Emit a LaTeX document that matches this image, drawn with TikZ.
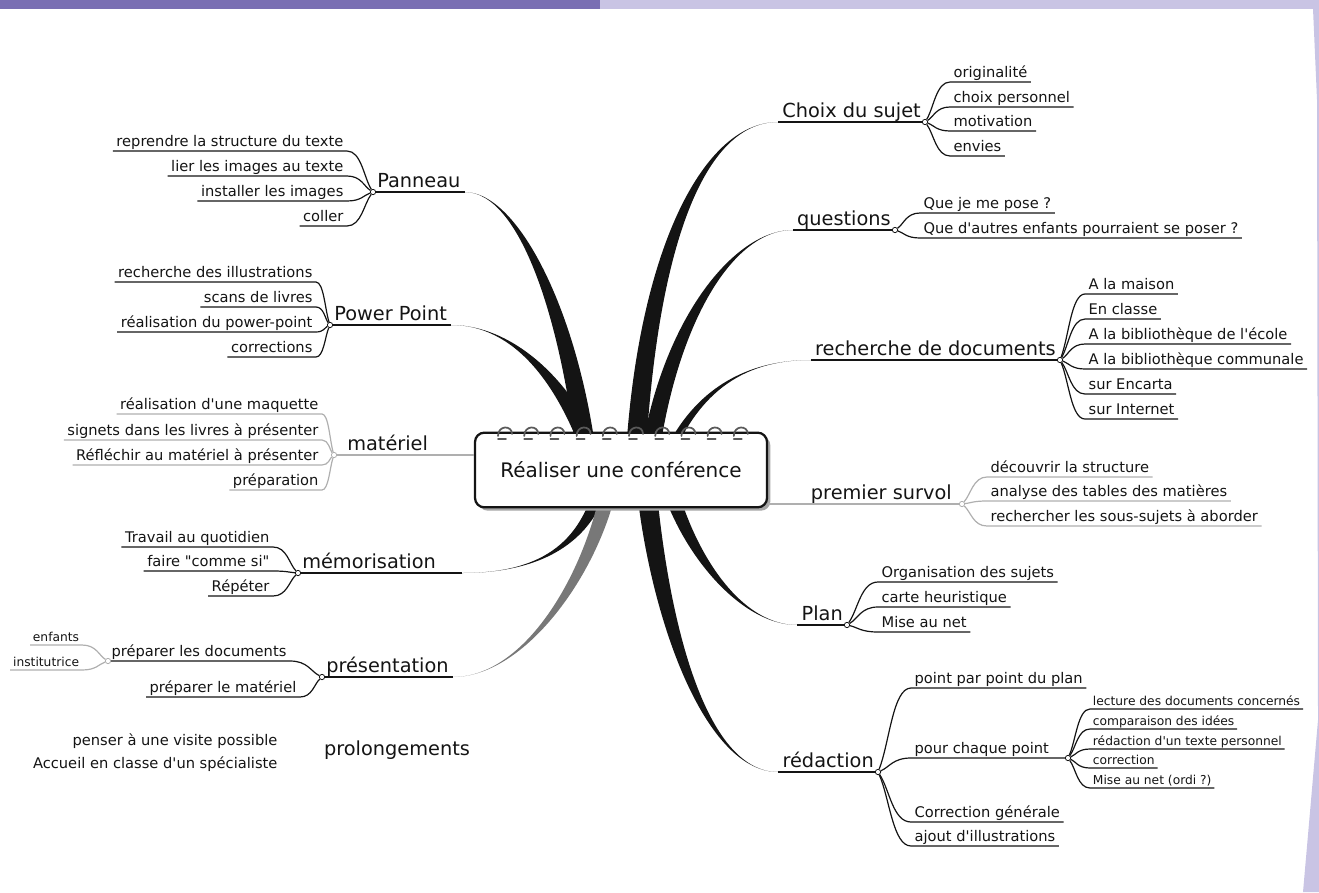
\documentclass[tikz,border=0pt]{standalone}
\usepackage{fontspec}
\setmainfont{DejaVu Sans}
\newfontfamily\djv{DejaVu Sans}
\usetikzlibrary{calc,shadows}
\definecolor{pdark}{RGB}{122,111,179}
\definecolor{plight}{RGB}{201,196,228}
\definecolor{ink}{RGB}{20,20,20}
\definecolor{faint}{RGB}{175,175,175}
\definecolor{midgray}{RGB}{120,120,120}
\newcommand\lblfont{\djv\fontsize{14.5}{17}\selectfont}
\newcommand\ctrfont{\djv\fontsize{15}{18}\selectfont}
\newcommand\itmfont{\djv\fontsize{11}{13}\selectfont}
\newcommand\sitmfont{\djv\fontsize{9.2}{11}\selectfont}
\newcommand\taper[6]{%
  \fill[#6] (#1) .. controls (#2) and ($(#3)+(#5,0)$) .. ($(#4)+(#5,0)$)
     -- ($(#4)-(#5,0)$) .. controls ($(#3)-(#5,0)$) and (#2) .. (#1) -- cycle;}
\tikzset{
  x=0.75pt, y=-0.75pt,
  lbl/.style={font=\lblfont, text=ink, inner xsep=3pt, inner ysep=0.8pt, text height=0.75em, text depth=0.22em},
  itm/.style={font=\itmfont, text=ink, inner xsep=2.5pt, inner ysep=0.8pt, text height=0.75em, text depth=0.22em},
  sitm/.style={font=\sitmfont, text=ink, inner xsep=2pt, inner ysep=0.6pt, text height=0.75em, text depth=0.22em},
  hub/.style={circle, draw=ink, fill=white, line width=0.6pt, inner sep=0pt, minimum size=4pt},
  ghub/.style={hub, draw=faint},
  ul/.style={draw=ink, line width=0.9pt},
  gul/.style={draw=faint, line width=0.9pt},
  ml/.style={draw=ink, line width=1.1pt},
  gml/.style={draw=faint, line width=1.1pt},
  fan/.style={to path={.. controls ($(\tikztostart)!0.35!(\tikztotarget)$) and ($(\tikztotarget)!0.55!(\tikztostart |- \tikztotarget)$) .. (\tikztotarget)}},
  coil/.style={draw=ink!70, line width=1.3pt, line cap=round},
  box/.style={draw=ink, fill=white, line width=1.7pt, rounded corners=7pt,
    minimum width=219pt, minimum height=56pt, font=\ctrfont, text=ink,
    drop shadow={shadow xshift=2.5pt, shadow yshift=-2.5pt, fill=gray!70, opacity=1}},
}
\begin{document}
\begin{tikzpicture}
\useasboundingbox (0,0) rectangle (1319,892);
% frame decoration
\fill[pdark] (0,0) rectangle (600,9);
\fill[plight] (600,0) rectangle (1319,9);
\fill[plight] (1313,9) -- (1319,9) -- (1319,892) -- (1303,892) -- (1318,720) -- (1317,100) -- cycle;

% ---------------- LEFT: Panneau
\node[hub] (hP) at (373,192) {};
\node[lbl, anchor=south west] (P) at (hP.center) {Panneau};
\node[itm, anchor=south east] (p1) at (347,151) {reprendre la structure du texte};
\node[itm, anchor=south east] (p2) at (347,176) {lier les images au texte};
\node[itm, anchor=south east] (p3) at (347,201) {installer les images};
\node[itm, anchor=south east] (p4) at (347,226) {coller};
\foreach \n in {p1,p2,p3,p4} \draw[ul] (hP) to[fan] (\n.south east) -- (\n.south west);
\draw[ml] (hP) -- (P.south east);

% ---------------- LEFT: Power Point
\node[hub] (hPP) at (330,325) {};
\node[lbl, anchor=south west] (PP) at (hPP.center) {Power Point};
\node[itm, anchor=south east] (q1) at (316,282) {recherche des illustrations};
\node[itm, anchor=south east] (q2) at (316,307) {scans de livres};
\node[itm, anchor=south east] (q3) at (316,332) {réalisation du power-point};
\node[itm, anchor=south east] (q4) at (316,357) {corrections};
\foreach \n in {q1,q2,q3,q4} \draw[ul] (hPP) to[fan] (\n.south east) -- (\n.south west);
\draw[ml] (hPP) -- (PP.south east);

% ---------------- LEFT: matériel
\node[ghub] (hM) at (334,455) {};
\node[lbl, anchor=south west] (M) at (343,455) {matériel};
\node[itm, anchor=south east] (m1) at (322,414) {réalisation d'une maquette};
\node[itm, anchor=south east] (m2) at (322,440) {signets dans les livres à présenter};
\node[itm, anchor=south east] (m3) at (322,465) {Réfléchir au matériel à présenter};
\node[itm, anchor=south east] (m4) at (322,490) {préparation};
\foreach \n in {m1,m2,m3,m4} \draw[gul] (hM) to[fan] (\n.south east) -- (\n.south west);

% ---------------- LEFT: mémorisation
\node[hub] (hMe) at (298,573) {};
\node[lbl, anchor=south west] (Me) at (hMe.center) {mémorisation};
\node[itm, anchor=south east] (e1) at (273,547) {Travail au quotidien};
\node[itm, anchor=south east] (e2) at (273,571) {faire "comme si"};
\node[itm, anchor=south east] (e3) at (273,596) {Répéter};
\foreach \n in {e1,e2,e3} \draw[ul] (hMe) to[fan] (\n.south east) -- (\n.south west);
\coordinate (eMe) at (462,573);
\draw[ml] (hMe) -- (eMe);

% ---------------- LEFT: présentation
\node[hub] (hPr) at (322,677) {};
\node[lbl, anchor=south west] (Pr) at (hPr.center) {présentation};
\node[ghub] (hPd) at (108,661) {};
\node[itm, anchor=south west] (r1) at (hPd.center) {préparer les documents};
\node[itm, anchor=south east] (r2) at (300,697) {préparer le matériel};
\node[sitm, anchor=south east] (r11) at (82,645) {enfants};
\node[sitm, anchor=south east] (r12) at (82,670) {institutrice};
\draw[ul] (hPr) to[fan] (r1.south east) -- (hPd);
\draw[ul] (hPr) to[fan] (r2.south east) -- (r2.south west);
\foreach \n in {r11,r12} \draw[gul] (hPd) to[fan] (\n.south east) -- (\n.south west);
\draw[ml] (hPr) -- (Pr.south east);

% ---------------- LEFT: prolongements
\node[lbl] (Pg) at (397,752) {prolongements};
\node[itm, anchor=east] (g1) at (281,742) {penser à une visite possible};
\node[itm, anchor=east] (g2) at (281,765) {Accueil en classe d'un spécialiste};

% ---------------- RIGHT: Choix du sujet
\node[hub] (hC) at (925,122) {};
\node[lbl, anchor=south east] (C) at (hC.center) {Choix du sujet};
\node[itm, anchor=south west] (c1) at (950,82) {originalité};
\node[itm, anchor=south west] (c2) at (950,107) {choix personnel};
\node[itm, anchor=south west] (c3) at (950,131) {motivation};
\node[itm, anchor=south west] (c4) at (950,156) {envies};
\foreach \n in {c1,c2,c3,c4} \draw[ul] (hC) to[fan] (\n.south west) -- (\n.south east);
\draw[ml] (C.south west) -- (hC);

% ---------------- RIGHT: questions
\node[hub] (hQ) at (895,230) {};
\node[lbl, anchor=south east] (Q) at (hQ.center) {questions};
\node[itm, anchor=south west] (k1) at (920,213) {Que je me pose ?};
\node[itm, anchor=south west] (k2) at (920,238) {Que d'autres enfants pourraient se poser ?};
\foreach \n in {k1,k2} \draw[ul] (hQ) to[fan] (\n.south west) -- (\n.south east);
\draw[ml] (Q.south west) -- (hQ);

% ---------------- RIGHT: recherche de documents
\node[hub] (hR) at (1060,360) {};
\node[lbl, anchor=south east] (R) at (hR.center) {recherche de documents};
\node[itm, anchor=south west] (d1) at (1085,294) {A la maison};
\node[itm, anchor=south west] (d2) at (1085,319) {En classe};
\node[itm, anchor=south west] (d3) at (1085,344) {A la bibliothèque de l'école};
\node[itm, anchor=south west] (d4) at (1085,369) {A la bibliothèque communale};
\node[itm, anchor=south west] (d5) at (1085,394) {sur Encarta};
\node[itm, anchor=south west] (d6) at (1085,419) {sur Internet};
\foreach \n in {d1,d2,d3,d4,d5,d6} \draw[ul] (hR) to[fan] (\n.south west) -- (\n.south east);
\draw[ml] (R.south west) -- (hR);

% ---------------- RIGHT: premier survol
\node[ghub] (hS) at (962,504) {};
\node[lbl, anchor=south east] (S) at (956,504) {premier survol};
\node[itm, anchor=south west] (s1) at (987,477) {découvrir la structure};
\node[itm, anchor=south west] (s2) at (987,501) {analyse des tables des matières};
\node[itm, anchor=south west] (s3) at (987,526) {rechercher les sous-sujets à aborder};
\foreach \n in {s1,s2,s3} \draw[gul] (hS) to[fan] (\n.south west) -- (\n.south east);

% ---------------- RIGHT: Plan
\node[hub] (hPl) at (847,625) {};
\node[lbl, anchor=south east] (Pl) at (hPl.center) {Plan};
\node[itm, anchor=south west] (l1) at (878,582) {Organisation des sujets};
\node[itm, anchor=south west] (l2) at (878,607) {carte heuristique};
\node[itm, anchor=south west] (l3) at (878,632) {Mise au net};
\foreach \n in {l1,l2,l3} \draw[ul] (hPl) to[fan] (\n.south west) -- (\n.south east);
\draw[ml] (Pl.south west) -- (hPl);

% ---------------- RIGHT: rédaction
\node[hub] (hRe) at (878,772) {};
\node[lbl, anchor=south east] (Re) at (hRe.center) {rédaction};
\node[itm, anchor=south west] (w1) at (911,688) {point par point du plan};
\node[hub] (hPc) at (1068,758) {};
\node[itm, anchor=south west] (w2) at (911,758) {pour chaque point};
\node[itm, anchor=south west] (w3) at (911,822) {Correction générale};
\node[itm, anchor=south west] (w4) at (911,846) {ajout d'illustrations};
\foreach \n in {w1,w3,w4} \draw[ul] (hRe) to[fan] (\n.south west) -- (\n.south east);
\draw[ul] (hRe) to[fan] (w2.south west) -- (hPc);
\node[sitm, anchor=south west] (v1) at (1090,709) {lecture des documents concernés};
\node[sitm, anchor=south west] (v2) at (1090,729) {comparaison des idées};
\node[sitm, anchor=south west] (v3) at (1090,749) {rédaction d'un texte personnel};
\node[sitm, anchor=south west] (v4) at (1090,768) {correction};
\node[sitm, anchor=south west] (v5) at (1090,788) {Mise au net (ordi ?)};
\foreach \n in {v1,v2,v3,v4,v5} \draw[ul] (hPc) to[fan] (\n.south west) -- (\n.south east);
\draw[ml] (Re.south west) -- (hRe);

% ---------------- central branches
\coordinate (sP) at (588,470);
\coordinate (sPP) at (598,470);
\coordinate (sMe) at (605,470);
\coordinate (sPr) at (612,470);
\coordinate (sC) at (635,470);
\coordinate (sQ) at (648,470);
\coordinate (sR) at (662,470);
\coordinate (sPl) at (665,470);
\coordinate (sRe) at (645,470);
\taper{P.south east}{520,192}{572,320}{sP}{10}{ink}
\taper{PP.south east}{515,325}{570,385}{sPP}{10}{ink}
\taper{eMe}{545,573}{592,540}{sMe}{7}{ink}
\taper{Pr.south east}{530,677}{600,560}{sPr}{8}{midgray}
\taper{C.south west}{700,122}{645,260}{sC}{10}{ink}
\taper{Q.south west}{730,230}{665,330}{sQ}{9}{ink}
\taper{R.south west}{740,360}{690,395}{sR}{5}{ink}
\taper{Pl.south west}{735,625}{680,540}{sPl}{8}{ink}
\taper{Re.south west}{700,772}{655,600}{sRe}{10}{ink}

% ---------------- central box
\node[box] (box) at (621,470) {Réaliser une conférence};
\draw[gml] (M.south west) -- (M.south east) -- (M.south east -| box.west);
\draw[gml] (box.east |- S.south west) -- (S.south west) -- (hS);
\draw[gml] (hM) -- (M.south west);
\foreach \i in {0,...,9} {
  \pgfmathsetmacro\xx{505+26.2*\i}
  \draw[coil] (\xx-7,436) .. controls (\xx-7,425) and (\xx+7,425) .. (\xx+7,434);
  \draw[coil] (\xx-7,439) -- (\xx+1,439);
}
\end{tikzpicture}
\end{document}
